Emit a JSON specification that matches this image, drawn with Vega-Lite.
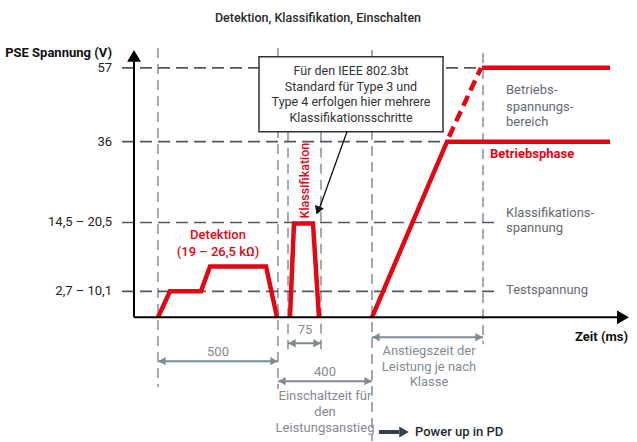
{
  "$schema": "https://vega.github.io/schema/vega-lite/v6.json",
  "width": 637,
  "height": 442,
  "padding": 0,
  "autosize": {"type": "fit", "contains": "padding"},
  "config": {"view": {"stroke": null}, "text": {"font": "Roboto", "fontSize": 12.5, "baseline": "middle"}},
  "datasets": {
    "vlines": [
      {"x": 24, "y": 270, "y2": -70},
      {"x": 144, "y": 270, "y2": -72},
      {"x": 154, "y": 186, "y2": -32},
      {"x": 187, "y": 186, "y2": -32},
      {"x": 238, "y": 268, "y2": -124},
      {"x": 349, "y": 265, "y2": -27}
    ],
    "hlines": [
      {"label": "57", "x": -12, "x2": 346, "y": 250},
      {"label": "36", "x": -12, "x2": 312, "y": 176},
      {"label": "14,5 – 20,5", "x": -12, "x2": 361, "y": 95},
      {"label": "2,7 – 10,1", "x": -12, "x2": 361, "y": 26}
    ],
    "box": [{"x": 125, "x2": 309, "y": 261, "y2": 186}],
    "boxText": [
      {"t": "Für den IEEE 802.3bt", "x": 217, "y": 247},
      {"t": "Standard für Type 3 und", "x": 217, "y": 231},
      {"t": "Type 4 erfolgen hier mehrere", "x": 217, "y": 216},
      {"t": "Klassifikationsschritte", "x": 217, "y": 200}
    ],
    "callout": [{"x": 213, "y": 186}, {"x": 185, "y": 108}],
    "calloutHead": [{"x": 184, "y": 107}],
    "signal": [
      {"s": "Detektion", "i": 0, "x": 24, "y": 0},
      {"s": "Detektion", "i": 1, "x": 36, "y": 26},
      {"s": "Detektion", "i": 2, "x": 67, "y": 26},
      {"s": "Detektion", "i": 3, "x": 76, "y": 51},
      {"s": "Detektion", "i": 4, "x": 132, "y": 51},
      {"s": "Detektion", "i": 5, "x": 143, "y": 0},
      {"s": "Klassifikation", "i": 0, "x": 156, "y": 0},
      {"s": "Klassifikation", "i": 1, "x": 160, "y": 94},
      {"s": "Klassifikation", "i": 2, "x": 179, "y": 94},
      {"s": "Klassifikation", "i": 3, "x": 185, "y": 0},
      {"s": "Einschalten", "i": 0, "x": 238, "y": 0},
      {"s": "Einschalten", "i": 1, "x": 313, "y": 176},
      {"s": "Einschalten", "i": 2, "x": 476, "y": 176},
      {"s": "Max", "i": 0, "x": 348, "y": 250},
      {"s": "Max", "i": 1, "x": 476, "y": 250}
    ],
    "ramp": [{"x": 315, "y": 181}, {"x": 347, "y": 250}],
    "axes": [
      {"a": "y", "x": 0, "y": 0, "x2": 0, "y2": 258},
      {"a": "x", "x": 0, "y": 0, "x2": 484, "y2": 0}
    ],
    "yHead": [{"x": 0, "y": 262}],
    "xHead": [{"x": 489, "y": 0}],
    "dims": [
      {"d": "500", "x": 24, "x2": 144, "y": -44},
      {"d": "75", "x": 154, "x2": 187, "y": -26},
      {"d": "400", "x": 144, "x2": 238, "y": -64},
      {"d": "Anstieg", "x": 238, "x2": 349, "y": -20}
    ],
    "dimText": [
      {"t": "500", "x": 84, "y": -35},
      {"t": "75", "x": 171, "y": -13},
      {"t": "400", "x": 191, "y": -55},
      {"t": "Einschaltzeit für", "x": 191, "y": -79},
      {"t": "den", "x": 191, "y": -95},
      {"t": "Leistungsanstieg", "x": 191, "y": -111},
      {"t": "Anstiegszeit der", "x": 295, "y": -34},
      {"t": "Leistung je nach", "x": 295, "y": -50},
      {"t": "Klasse", "x": 295, "y": -65}
    ],
    "grayLabels": [
      {"t": "Betriebs-", "x": 372, "y": 228},
      {"t": "spannungs-", "x": 372, "y": 211},
      {"t": "bereich", "x": 372, "y": 196},
      {"t": "Klassifikations-", "x": 372, "y": 105},
      {"t": "spannung", "x": 372, "y": 89},
      {"t": "Testspannung", "x": 372, "y": 27}
    ],
    "detText": [
      {"t": "Detektion", "x": 84, "y": 82},
      {"t": "(19 – 26,5 kΩ)", "x": 84, "y": 65}
    ],
    "phase": [{"t": "Betriebsphase", "x": 356, "y": 164}],
    "klass": [{"t": "Klassifikation", "x": 171, "y": 137}],
    "title": [{"t": "Detektion, Klassifikation, Einschalten", "x": 184, "y": 300}],
    "axisTitles": [
      {"t": "PSE Spannung (V)", "x": -22, "y": 265},
      {"t": "Zeit (ms)", "x": 494, "y": -20}
    ],
    "power": [{"x": 245, "x2": 265, "y": -115}],
    "powerHead": [{"x": 270, "y": -115}],
    "powerText": [{"t": "Power up in PD", "x": 281, "y": -115}]
  },
  "encoding": {
    "x": {"field": "x", "type": "quantitative", "scale": {"domain": [-134, 503], "nice": false, "zero": false}, "axis": null},
    "y": {"field": "y", "type": "quantitative", "scale": {"domain": [-124, 318], "nice": false, "zero": false}, "axis": null}
  },
  "layer": [
    {"data": {"name": "vlines"}, "mark": {"type": "rule", "color": "#8c969e", "strokeWidth": 1.6, "strokeDash": [10, 6]}, "encoding": {"y2": {"field": "y2"}}},
    {"data": {"name": "hlines"}, "mark": {"type": "rule", "color": "#4f5962", "strokeWidth": 1.7, "strokeDash": [12, 6]}, "encoding": {"x2": {"field": "x2"}}},
    {"data": {"name": "hlines"}, "mark": {"type": "text", "align": "right", "color": "#222222", "fontSize": 13}, "encoding": {"x": {"datum": -22}, "text": {"field": "label"}}},
    {"data": {"name": "box"}, "mark": {"type": "rect", "fill": "white", "stroke": "#333333", "strokeWidth": 1.5}, "encoding": {"x2": {"field": "x2"}, "y2": {"field": "y2"}}},
    {"data": {"name": "boxText"}, "mark": {"type": "text", "align": "center", "color": "#333333", "fontSize": 12.5}, "encoding": {"text": {"field": "t"}}},
    {"data": {"name": "callout"}, "mark": {"type": "line", "color": "#111111", "strokeWidth": 1.3}, "encoding": {}},
    {"data": {"name": "calloutHead"}, "mark": {"type": "point", "shape": "triangle-up", "filled": true, "color": "#111111", "size": 90, "angle": 200, "opacity": 1}, "encoding": {}},
    {"data": {"name": "signal"}, "mark": {"type": "line", "color": "#e30613", "strokeWidth": 4.5, "strokeJoin": "miter"}, "encoding": {"detail": {"field": "s"}, "order": {"field": "i", "type": "quantitative"}}},
    {"data": {"name": "ramp"}, "mark": {"type": "line", "color": "#e30613", "strokeWidth": 4.5, "strokeDash": [11, 6]}, "encoding": {}},
    {"data": {"name": "axes"}, "mark": {"type": "rule", "color": "#000000", "strokeWidth": 2}, "encoding": {"x2": {"field": "x2"}, "y2": {"field": "y2"}, "detail": {"field": "a"}}},
    {"data": {"name": "yHead"}, "mark": {"type": "point", "shape": "triangle-up", "filled": true, "color": "#000000", "size": 190, "opacity": 1}, "encoding": {}},
    {"data": {"name": "xHead"}, "mark": {"type": "point", "shape": "triangle-right", "filled": true, "color": "#000000", "size": 190, "opacity": 1}, "encoding": {}},
    {"data": {"name": "dims"}, "mark": {"type": "rule", "color": "#7f8a92", "strokeWidth": 2}, "encoding": {"x2": {"field": "x2"}}},
    {"data": {"name": "dims"}, "mark": {"type": "point", "shape": "triangle-left", "filled": true, "color": "#7f8a92", "size": 70, "opacity": 1, "xOffset": 4}, "encoding": {}},
    {"data": {"name": "dims"}, "mark": {"type": "point", "shape": "triangle-right", "filled": true, "color": "#7f8a92", "size": 70, "opacity": 1, "xOffset": -4}, "encoding": {"x": {"field": "x2", "type": "quantitative"}}},
    {"data": {"name": "dimText"}, "mark": {"type": "text", "align": "center", "color": "#828c94", "fontSize": 13}, "encoding": {"text": {"field": "t"}}},
    {"data": {"name": "grayLabels"}, "mark": {"type": "text", "align": "left", "color": "#5f6a73", "fontSize": 13}, "encoding": {"text": {"field": "t"}}},
    {"data": {"name": "detText"}, "mark": {"type": "text", "align": "center", "color": "#e30613", "fontSize": 13, "fontWeight": 500}, "encoding": {"text": {"field": "t"}}},
    {"data": {"name": "phase"}, "mark": {"type": "text", "align": "left", "color": "#e30613", "fontSize": 13, "fontWeight": "bold"}, "encoding": {"text": {"field": "t"}}},
    {"data": {"name": "klass"}, "mark": {"type": "text", "align": "center", "angle": 270, "color": "#e30613", "fontSize": 12.5, "fontWeight": 500}, "encoding": {"text": {"field": "t"}}},
    {"data": {"name": "title"}, "mark": {"type": "text", "align": "center", "color": "#2a2a2a", "fontSize": 12.5, "fontWeight": 500}, "encoding": {"text": {"field": "t"}}},
    {"data": {"name": "axisTitles"}, "mark": {"type": "text", "align": "right", "color": "#111111", "fontSize": 13, "fontWeight": "bold"}, "encoding": {"text": {"field": "t"}}},
    {"data": {"name": "power"}, "mark": {"type": "rule", "color": "#36404a", "strokeWidth": 4}, "encoding": {"x2": {"field": "x2"}}},
    {"data": {"name": "powerHead"}, "mark": {"type": "point", "shape": "triangle-right", "filled": true, "color": "#36404a", "size": 120, "opacity": 1}, "encoding": {}},
    {"data": {"name": "powerText"}, "mark": {"type": "text", "align": "left", "color": "#1f2a33", "fontSize": 13, "fontWeight": 500}, "encoding": {"text": {"field": "t"}}}
  ]
}
